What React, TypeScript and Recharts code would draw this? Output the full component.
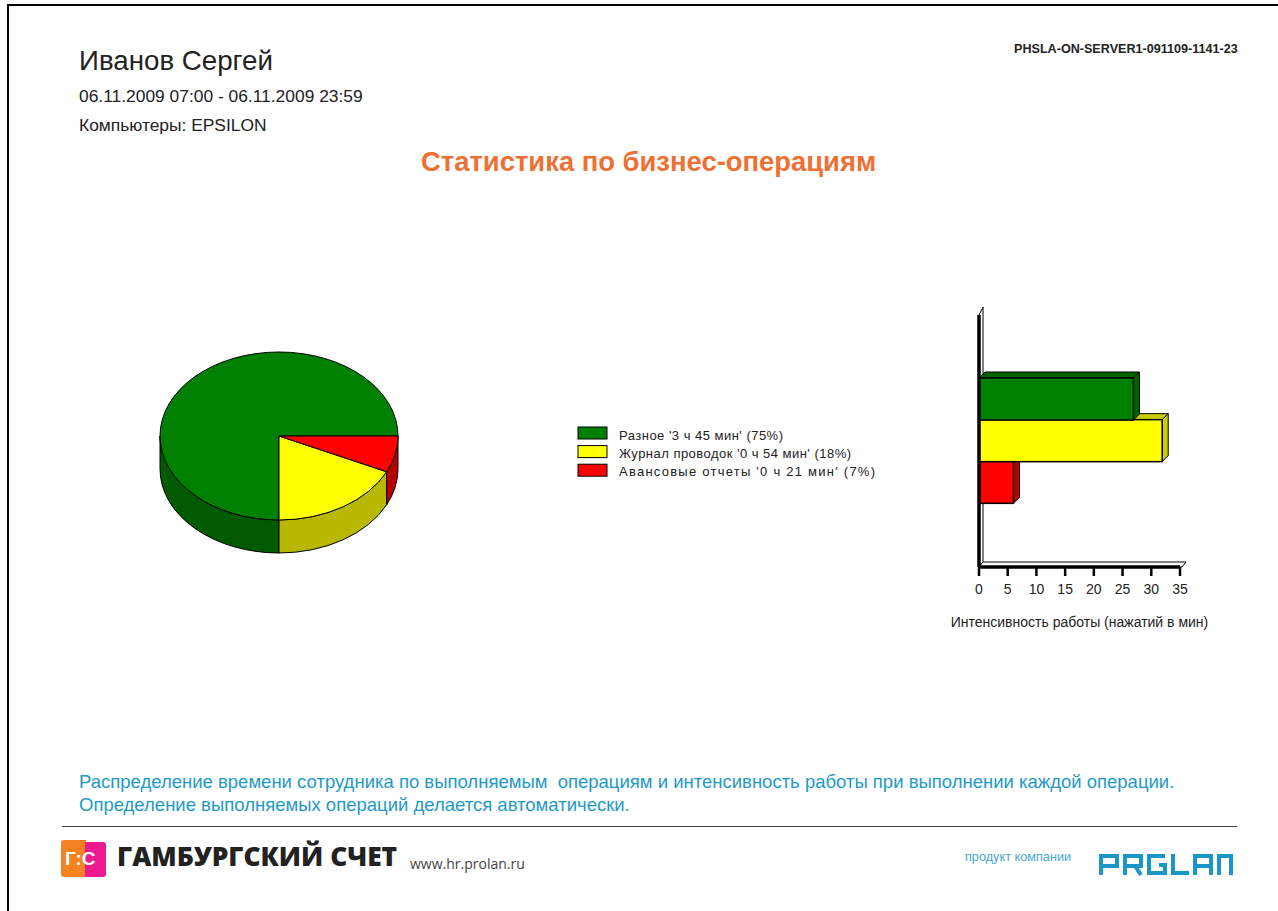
import React from "react";
import {
  PieChart,
  Pie,
  Cell,
  Legend,
  BarChart,
  Bar,
  XAxis,
  YAxis,
  ReferenceArea,
} from "recharts";

const operations = ["Разное", "Журнал проводок", "Авансовые отчеты"];
const durations = ["3 ч 45 мин", "0 ч 54 мин", "0 ч 21 мин"];
const shares = [75, 18, 7];
const intensity = [26.9, 31.9, 6];
const intensityTicks = [0, 5, 10, 15, 20, 25, 30, 35];

const faceColors = ["#008000", "#ffff00", "#ff0000"];
const wallColors = ["#005a00", "#b8b800", "#b80000"];
const barTopColors = ["#006400", "#cccc00", "#b80000"];
const legendWidths = [164, 232, 256];

const FONT = '"Liberation Sans", Arial, sans-serif';
const SQUASH = 84 / 119;
const PIE_DEPTH = 33;
const BAR_DEPTH = 6;
const PAD_TOP = 63;
const PAD_BOTTOM = 64;

const pieData = operations.map((name, i) => ({ name, value: shares[i] }));
// drawn bottom row first so the upper bars cover the 3D tops below them
const barData = operations
  .map((name, i) => ({ name, value: intensity[i], index: i }))
  .reverse();

function arcPoint(cx: number, cy: number, r: number, deg: number) {
  const a = (deg * Math.PI) / 180;
  return [cx + r * Math.cos(a), cy - r * SQUASH * Math.sin(a)];
}

function TopSlice(props: any) {
  const { cx, cy, outerRadius: r, startAngle, endAngle, fill } = props;
  const [x1, y1] = arcPoint(cx, cy, r, startAngle);
  const [x2, y2] = arcPoint(cx, cy, r, endAngle);
  const large = Math.abs(endAngle - startAngle) > 180 ? 1 : 0;
  return (
    <path
      d={`M${cx},${cy}L${x1},${y1}A${r},${r * SQUASH} 0 ${large} 0 ${x2},${y2}Z`}
      fill={fill}
      stroke="#000"
      strokeWidth={1}
    />
  );
}

// side wall: only the part of the arc in the lower half of the ellipse shows
function WallSlice(props: any) {
  const { cx, cy, outerRadius: r, startAngle, endAngle, fill } = props;
  const from = Math.max(startAngle, 180);
  const to = endAngle;
  if (to <= from) return null;
  const [x1, y1] = arcPoint(cx, cy, r, from);
  const [x2, y2] = arcPoint(cx, cy, r, to);
  const ry = r * SQUASH;
  return (
    <path
      d={`M${x1},${y1}A${r},${ry} 0 0 0 ${x2},${y2}L${x2},${y2 + PIE_DEPTH}A${r},${ry} 0 0 1 ${x1},${y1 + PIE_DEPTH}Z`}
      fill={fill}
      stroke="#000"
      strokeWidth={1}
    />
  );
}

function Bar3D(props: any) {
  const { x, y, width, height, index } = props;
  const d = BAR_DEPTH;
  const i = barData[index].index;
  return (
    <g stroke="#000" strokeWidth={1}>
      <path
        d={`M${x},${y}l${d},${-d}h${width}l${-d},${d}Z`}
        fill={barTopColors[i]}
      />
      <path
        d={`M${x + width},${y}l${d},${-d}v${height}l${-d},${d}Z`}
        fill={barTopColors[i]}
      />
      <rect x={x} y={y} width={width} height={height} fill={faceColors[i]} strokeWidth={1.5} />
    </g>
  );
}

// the reference area only covers the bands, so add the axis padding back
function WallAndFloor(props: any) {
  const { x, width } = props;
  const y = props.y - PAD_TOP;
  const height = props.height + PAD_TOP + PAD_BOTTOM;
  const bottom = y + height;
  return (
    <g stroke="#000" fill="#fff" strokeWidth={1}>
      <path d={`M${x},${y}l4,-8v${height + 3}l-4,5Z`} />
      <path d={`M${x},${bottom}l4,-5h${width + 2}l-4,5Z`} />
    </g>
  );
}

function LegendBox() {
  return (
    <svg width={310} height={60} style={{ display: "block" }}>
      {operations.map((name, i) => (
        <g key={name}>
          <rect x={1} y={1 + i * 18.6} width={29} height={12} fill={faceColors[i]} stroke="#000" />
          <text
            x={42}
            y={14 + i * 17.8}
            fontSize={13}
            fontFamily={FONT}
            fill="#222"
            textLength={legendWidths[i]}
          >
            {`${name} '${durations[i]}' (${shares[i]}%)`}
          </text>
        </g>
      ))}
    </svg>
  );
}

function Txt({ x, y, size, color = "#222", bold, family, weight, children }: any) {
  return (
    <div
      style={{
        position: "absolute",
        left: x,
        top: y,
        fontSize: size,
        lineHeight: 1,
        color,
        fontWeight: weight || (bold ? 700 : 400),
        fontFamily: family || FONT,
        whiteSpace: "pre",
      }}
    >
      {children}
    </div>
  );
}

function ProlanLogo() {
  const letters = [
    "M2,21V2H18V12H2",
    "M26,21V2H42V12H26M36,12L42,21",
    "M66,2H50V19H66V11H60",
    "M74,0V19H90",
    "M96,21V2H112V21M96,12H112",
    "M120,21V2H132V21M132,8V21",
  ];
  return (
    <svg
      width={136}
      height={23}
      style={{ position: "absolute", left: 1099, top: 854 }}
    >
      {letters.map((d) => (
        <path key={d} d={d} fill="none" stroke="#1a96c8" strokeWidth={4} />
      ))}
    </svg>
  );
}

export default function App() {
  return (
    <div
      style={{
        position: "absolute",
        left: 0,
        top: 0,
        width: 1278,
        height: 911,
        background: "#fff",
        overflow: "hidden",
      }}
    >
      <div style={{ position: "absolute", left: 7, top: 4, right: 0, height: 2, background: "#000" }} />
      <div style={{ position: "absolute", left: 7, top: 4, bottom: 0, width: 2, background: "#000" }} />

      <Txt x={79} y={47} size={27.7}>Иванов Сергей</Txt>
      <Txt x={79} y={88} size={17.4}>06.11.2009 07:00 - 06.11.2009 23:59</Txt>
      <Txt x={79} y={117} size={17.4}>Компьютеры: EPSILON</Txt>
      <Txt x={1014} y={43} size={12.6} bold>PHSLA-ON-SERVER1-091109-1141-23</Txt>
      <Txt x={421} y={148} size={27.4} bold color="#ee7032">Статистика по бизнес-операциям</Txt>

      <div style={{ position: "absolute", left: 140, top: 340 }}>
        <PieChart width={760} height={230} margin={{ top: 0, right: 0, bottom: 0, left: 0 }}>
          <Pie
            data={pieData}
            dataKey="value"
            nameKey="name"
            cx={139}
            cy={96}
            outerRadius={119}
            startAngle={0}
            endAngle={360}
            stroke="none"
            legendType="none"
            isAnimationActive={false}
            shape={WallSlice}
          >
            {pieData.map((d, i) => (
              <Cell key={d.name} fill={wallColors[i]} />
            ))}
          </Pie>
          <Pie
            data={pieData}
            dataKey="value"
            nameKey="name"
            cx={139}
            cy={96}
            outerRadius={119}
            startAngle={0}
            endAngle={360}
            stroke="none"
            isAnimationActive={false}
            shape={TopSlice}
          >
            {pieData.map((d, i) => (
              <Cell key={d.name} fill={faceColors[i]} />
            ))}
          </Pie>
          <Legend
            content={<LegendBox />}
            wrapperStyle={{ position: "absolute", left: 437, top: 86, width: 310, bottom: "auto" }}
          />
        </PieChart>
      </div>

      <div style={{ position: "absolute", left: 950, top: 300 }}>
        <BarChart
          width={260}
          height={340}
          layout="vertical"
          data={barData}
          barCategoryGap={0}
          margin={{ top: 15, right: 30, bottom: 0, left: 28 }}
        >
          <ReferenceArea x1={0} x2={35} ifOverflow="visible" shape={WallAndFloor} />
          <XAxis
            type="number"
            domain={[0, 35]}
            ticks={intensityTicks}
            interval={0}
            height={73}
            tickSize={9}
            axisLine={{ stroke: "#000", strokeWidth: 3.5 }}
            tickLine={{ stroke: "#000", strokeWidth: 2.5 }}
            tick={{ fontSize: 14, fontFamily: FONT, fill: "#222", dy: 6 }}
            label={{
              value: "Интенсивность работы (нажатий в мин)",
              position: "insideBottom",
              offset: 13,
              fontSize: 14,
              fontFamily: FONT,
              fill: "#222",
            }}
          />
          <YAxis
            type="category"
            dataKey="name"
            reversed
            width={1}
            tick={false}
            tickLine={false}
            padding={{ top: PAD_TOP, bottom: PAD_BOTTOM }}
            axisLine={{ stroke: "#000", strokeWidth: 3.5 }}
          />
          <Bar dataKey="value" isAnimationActive={false} shape={Bar3D} />
        </BarChart>
      </div>

      <Txt x={79} y={773} size={18.5} color="#1f9ac6">Распределение времени сотрудника по выполняемым  операциям и интенсивность работы при выполнении каждой операции.</Txt>
      <Txt x={79} y={796} size={18.5} color="#1f9ac6">Определение выполняемых операций делается автоматически.</Txt>

      <div style={{ position: "absolute", left: 62, top: 826, width: 1175, height: 1, background: "#444" }} />

      <div style={{ position: "absolute", left: 61, top: 840, width: 25, height: 37, background: "#f58220", borderRadius: "3px 0 0 3px" }} />
      <div style={{ position: "absolute", left: 85, top: 842, width: 21, height: 35, background: "#ec1a8e", borderRadius: "0 3px 3px 0" }} />
      <Txt x={65} y={849} size={19} bold color="#fff">Г:С</Txt>
      <Txt x={117} y={843} size={26.3} weight={800} color="#222" family='"Open Sans", sans-serif'>ГАМБУРГСКИЙ СЧЕТ</Txt>
      <Txt x={410} y={857} size={14} color="#444" family='"Open Sans", sans-serif'>www.hr.prolan.ru</Txt>
      <Txt x={965} y={851} size={12.7} color="#4aa8cc">продукт компании</Txt>
      <ProlanLogo />
    </div>
  );
}
